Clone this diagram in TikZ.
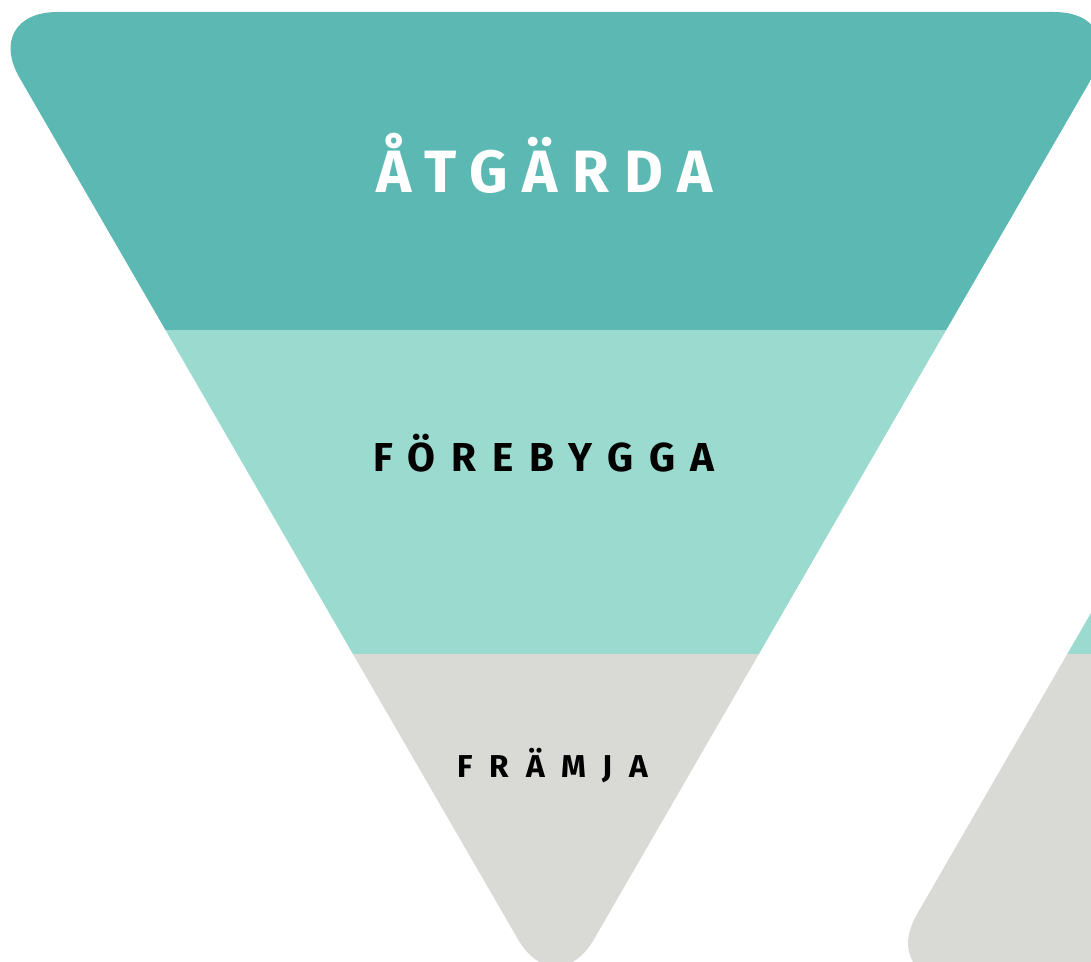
\documentclass[tikz,border=0pt]{standalone}
\usepackage{fontspec}
\setmainfont{Fira Sans}
\usepackage{xcolor}
\definecolor{actTeal}{HTML}{5CB8B2}
\definecolor{prevTeal}{HTML}{9BDACF}
\definecolor{promoGrey}{HTML}{D9D9D5}
\usepackage{tikz}
\usetikzlibrary{positioning,calc}
\tikzset{%
  levelShape/.style={%
    rounded corners=1.52cm
  },
  levelLabel/.style={%
    inner sep=0pt,
    anchor=center,
    align=center
  },
  bigLabel/.style={%
    levelLabel,
    text=white,
    font=\fontsize{34}{38}\selectfont\bfseries\addfontfeature{LetterSpace=25}
  },
  midLabel/.style={%
    levelLabel,
    text=black,
    font=\fontsize{23}{27}\selectfont\bfseries\addfontfeature{LetterSpace=39}
  },
  smallLabel/.style={%
    levelLabel,
    text=black,
    font=\fontsize{18}{21}\selectfont\bfseries\addfontfeature{LetterSpace=53}
  }
}

\begin{document}
\begin{tikzpicture}[x=0.02cm,y=-0.02cm]
  \useasboundingbox (0,0) rectangle (1091,962);
  \clip (0,0) rectangle (1091,962);

  % inverted triangle
  \begin{scope}
    \clip[levelShape] (556,12) -- (1130,12) -- (556,1005) -- (-18.5,12) -- cycle;
    \fill[actTeal] (-30,0) rectangle (1140,330);
    \fill[prevTeal] (-30,330) rectangle (1140,654);
    \fill[promoGrey] (-30,654) rectangle (1140,1010);
  \end{scope}

  % second triangle, cut by the border
  \begin{scope}
    \clip[levelShape] (1453,980) -- (879,980) -- (1453,-14) -- (2027,980) -- cycle;
    \fill[prevTeal] (860,-20) rectangle (1100,654);
    \fill[promoGrey] (860,654) rectangle (1100,1000);
  \end{scope}

  \node[bigLabel] (atgarda) at (545,163) {ÅTGÄRDA};
  \node[midLabel] (forebygga) at (544,453) {FÖREBYGGA};
  \node[smallLabel] (framja) at (553,766) {FRÄMJA};
\end{tikzpicture}
\end{document}
